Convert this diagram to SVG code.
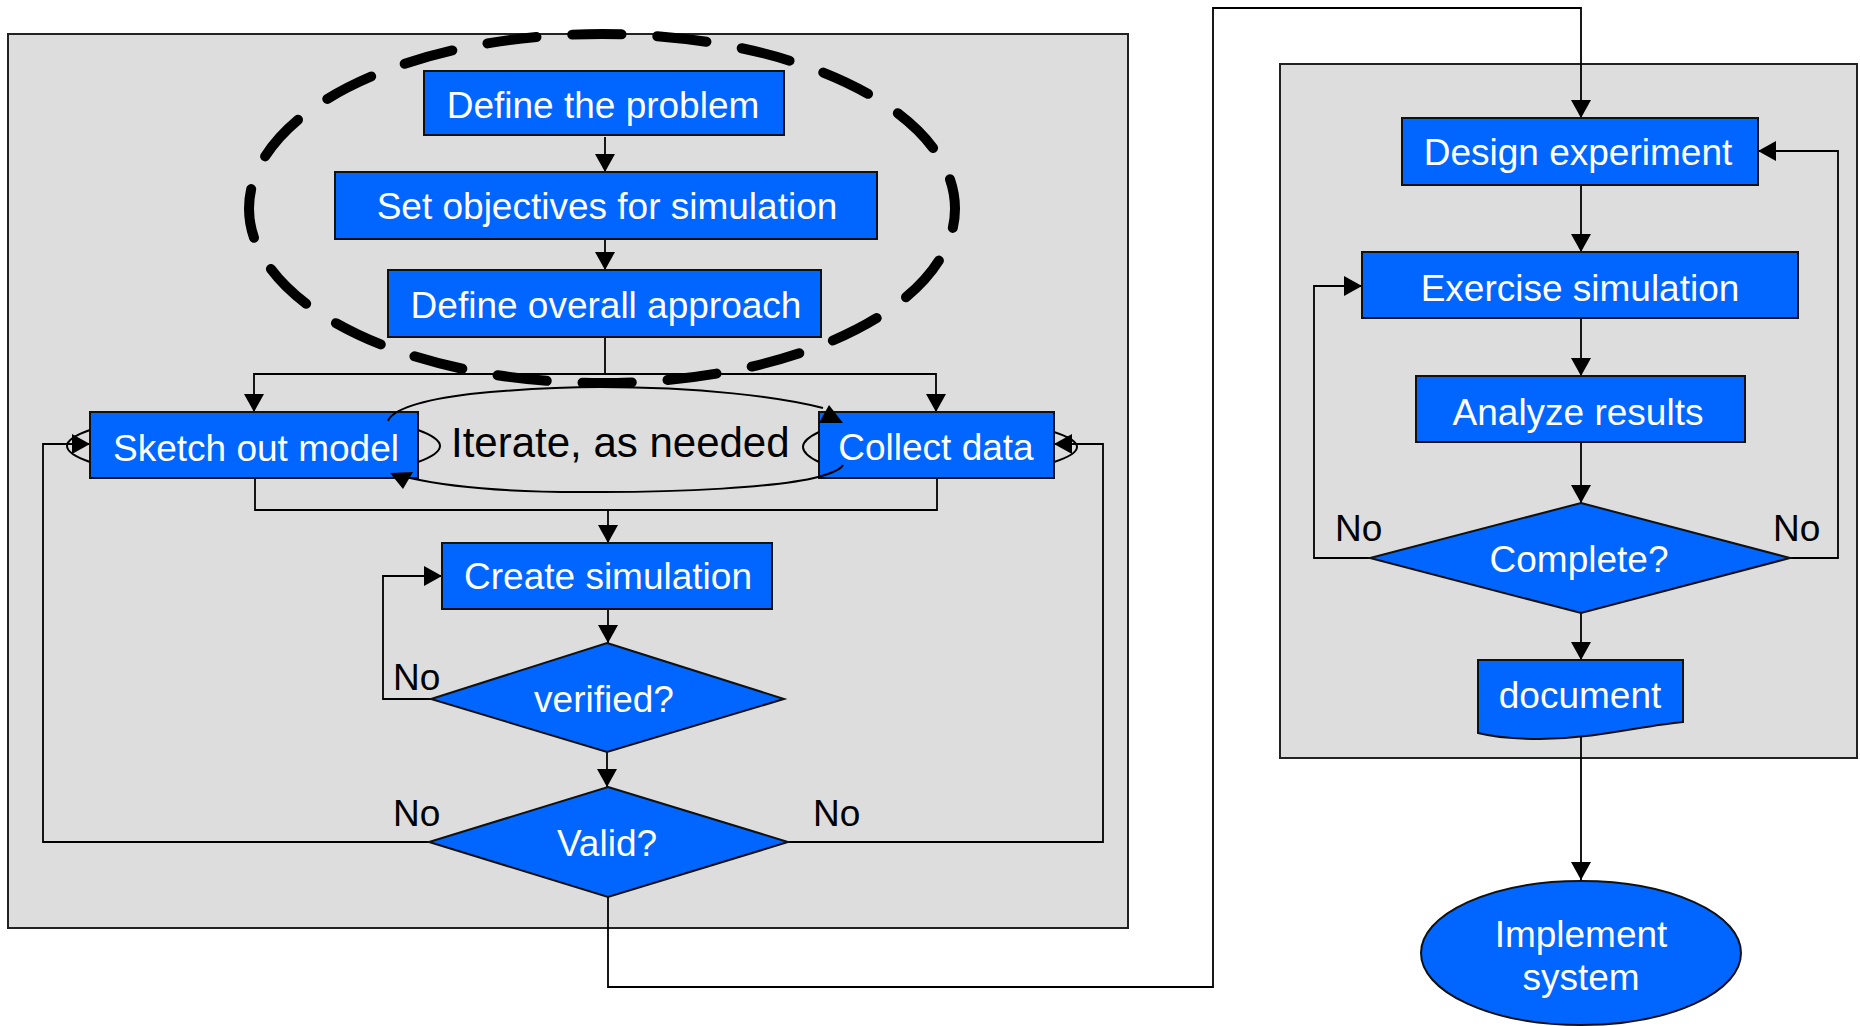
<svg xmlns="http://www.w3.org/2000/svg" width="1860" height="1026" viewBox="0 0 1860 1026">
<style>
.panel{fill:#DDDDDD;stroke:#222;stroke-width:2}
.box{fill:#0066FF;stroke:#111;stroke-width:2}
.lbl{font-family:"Liberation Sans",Arial,sans-serif;font-size:37px;fill:#FFFFFF;text-anchor:middle}
.note{font-family:"Liberation Sans",Arial,sans-serif;font-size:37px;fill:#000000}
.conn{fill:none;stroke:#000;stroke-width:1.8}
.arr{marker-end:url(#ah)}
.thin{fill:none;stroke:#000;stroke-width:2}
</style>
<defs>
<marker id="ah" markerUnits="userSpaceOnUse" markerWidth="20" markerHeight="22" viewBox="0 0 20 22" refX="19" refY="11" orient="auto">
<path d="M1,1 L19,11 L1,21 z" fill="#000"/>
</marker>
</defs>
<rect width="1860" height="1026" fill="#FFFFFF"/>
<g id="panels">
<rect class="panel" x="8" y="34" width="1120" height="894"/>
<rect class="panel" x="1280" y="64" width="577" height="694"/>
</g>
<g id="connectors">
<path class="conn arr" d="M605,137 V172"/>
<path class="conn arr" d="M605,239 V270"/>
<path class="conn" d="M605,337 V374"/>
<path class="conn arr" d="M605,374 H254 V412"/>
<path class="conn arr" d="M605,374 H936 V412"/>
<path class="conn" d="M255,478 V510 H937 V478"/>
<path class="conn arr" d="M608,510 V543"/>
<path class="conn arr" d="M608,609 V643"/>
<path class="conn arr" d="M431,699 H383 V576 H442"/>
<path class="conn arr" d="M607,752 V787"/>
<path class="conn arr" d="M429,842 H43 V444 H90"/>
<path class="conn arr" d="M788,842 H1103 V444 H1054"/>
<path class="conn arr" d="M608,897 V987 H1213 V8 H1581 V118"/>
<path class="conn arr" d="M1581,185 V252"/>
<path class="conn arr" d="M1581,318 V376"/>
<path class="conn arr" d="M1581,442 V503"/>
<path class="conn arr" d="M1581,613 V660"/>
<path class="conn arr" d="M1581,733 V880"/>
<path class="conn arr" d="M1370,558 H1314 V286 H1362"/>
<path class="conn arr" d="M1790,558 H1838 V151 H1758"/>
</g>
<g id="planning-group">
<ellipse cx="602" cy="208.5" rx="353" ry="174.5" fill="none" stroke="#000" stroke-width="10" stroke-linecap="round" pathLength="2000" stroke-dasharray="58 42" stroke-dashoffset="35"/>
</g>
<g id="define-problem">
<rect class="box" x="424" y="71" width="360" height="64"/>
<text class="lbl" x="603" y="118">Define the problem</text>
</g>
<g id="set-objectives">
<rect class="box" x="335" y="172" width="542" height="67"/>
<text class="lbl" x="607" y="219">Set objectives for simulation</text>
</g>
<g id="define-approach">
<rect class="box" x="388" y="270" width="433" height="67"/>
<text class="lbl" x="606" y="318">Define overall approach</text>
</g>
<g id="sketch-model">
<rect class="box" x="90" y="412" width="328" height="66"/>
<text class="lbl" x="256" y="461">Sketch out model</text>
</g>
<g id="collect-data">
<rect class="box" x="819" y="412" width="235" height="66"/>
<text class="lbl" x="936" y="460">Collect data</text>
</g>
<g id="iterate">
<path class="thin" d="M388,421 C392,410 420,400 470,394 C520,389 560,387 600,387 C700,387 780,397 823,408"/>
<path class="thin" d="M410,478 C450,487 510,492 580,492 C680,493 780,487 818,477 Q840,471 843,465"/>
<path d="M829,405 L819,423 L843,423 z" fill="#000"/>
<path d="M390,473 L413,472 L403,489 z" fill="#000"/>
<path class="thin" d="M90,430 Q44,446 90,462"/>
<path class="thin" d="M418,430 Q462,446 418,462"/>
<path class="thin" d="M819,432 Q787,447 819,462"/>
<path class="thin" d="M1054,432 Q1100,447 1054,462"/>
<text x="451" y="457" font-family="Liberation Sans, Arial, sans-serif" font-size="42" fill="#000">Iterate, as needed</text>
</g>
<g id="create-simulation">
<rect class="box" x="442" y="543" width="330" height="66"/>
<text class="lbl" x="608" y="589">Create simulation</text>
</g>
<g id="verified">
<path class="box" d="M607,643 L784,699 L607,752 L431,699 z"/>
<text class="lbl" x="604" y="712">verified?</text>
</g>
<g id="valid">
<path class="box" d="M608,787 L788,842 L608,897 L429,842 z"/>
<text class="lbl" x="607" y="856">Valid?</text>
</g>
<g id="no-labels">
<text class="note" x="393" y="690">No</text>
<text class="note" x="393" y="826">No</text>
<text class="note" x="813" y="826">No</text>
<text class="note" x="1335" y="541">No</text>
<text class="note" x="1773" y="541">No</text>
</g>
<g id="design-experiment">
<rect class="box" x="1402" y="118" width="356" height="67"/>
<text class="lbl" x="1578" y="165">Design experiment</text>
</g>
<g id="exercise-simulation">
<rect class="box" x="1362" y="252" width="436" height="66"/>
<text class="lbl" x="1580" y="301">Exercise simulation</text>
</g>
<g id="analyze-results">
<rect class="box" x="1416" y="376" width="329" height="66"/>
<text class="lbl" x="1578" y="425">Analyze results</text>
</g>
<g id="complete">
<path class="box" d="M1581,503 L1790,558 L1581,613 L1370,558 z"/>
<text class="lbl" x="1579" y="572">Complete?</text>
</g>
<g id="document">
<path class="box" d="M1478,660 L1683,660 L1683,722 C1640,726 1600,738 1540,739 C1510,739 1490,736 1478,733 z"/>
<text class="lbl" x="1580" y="708">document</text>
</g>
<g id="implement-system">
<ellipse class="box" cx="1581" cy="953" rx="160" ry="72"/>
<text class="lbl" x="1581" y="947">Implement</text>
<text class="lbl" x="1581" y="990">system</text>
</g>
</svg>
